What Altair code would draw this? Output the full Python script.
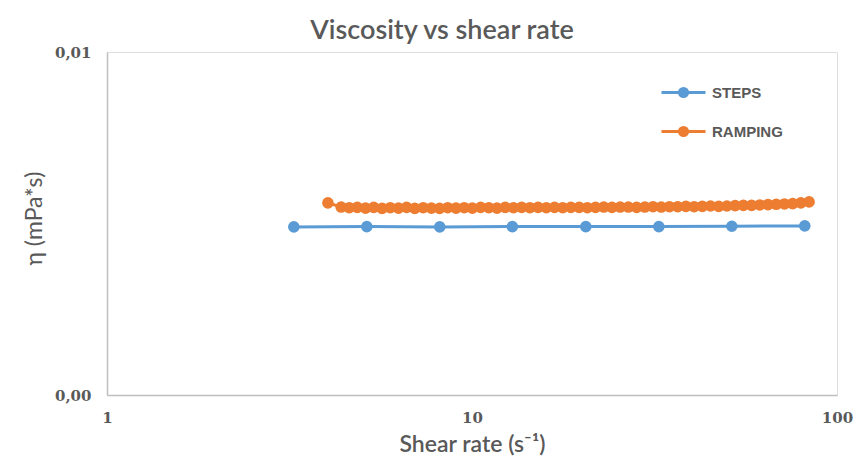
import altair as alt
import pandas as pd

# Shear rate (1/s) and viscosity for the stepped measurement
steps_rate = [3.25, 5.15, 8.16, 12.9, 20.5, 32.5, 51.5, 81.6]
steps_eta = [0.00490, 0.00491, 0.00490, 0.00491, 0.00491, 0.00491, 0.00492, 0.00493]

# Shear rate (1/s) and viscosity for the continuous ramp
ramp_rate = [
    4.03,
    4.38, 4.61, 4.85, 5.11, 5.38, 5.67, 5.97, 6.29, 6.62, 6.97,
    7.35, 7.74, 8.15, 8.58, 9.04, 9.52, 10.02, 10.56, 11.12, 11.71,
    12.33, 12.99, 13.68, 14.41, 15.17, 15.98, 16.83, 17.72, 18.66, 19.66,
    20.70, 21.80, 22.96, 24.18, 25.47, 26.82, 28.25, 29.75, 31.33, 33.00,
    34.75, 36.60, 38.55, 40.60, 42.76, 45.03, 47.42, 49.94, 52.60, 55.40,
    58.34, 61.45, 64.71, 68.15, 71.78, 75.60, 79.62, 83.85,
]
ramp_eta = [
    0.00560,
    0.00548, 0.00546, 0.00547, 0.00545, 0.00547, 0.00544, 0.00546, 0.00545, 0.00547, 0.00544,
    0.00546, 0.00545, 0.00544, 0.00546, 0.00545, 0.00546, 0.00545, 0.00547, 0.00546, 0.00545,
    0.00547, 0.00546, 0.00547, 0.00546, 0.00547, 0.00546, 0.00547, 0.00546, 0.00547, 0.00547,
    0.00546, 0.00547, 0.00548, 0.00547, 0.00548, 0.00548, 0.00547, 0.00548, 0.00549, 0.00548,
    0.00549, 0.00549, 0.00550, 0.00549, 0.00550, 0.00551, 0.00550, 0.00551, 0.00552, 0.00553,
    0.00553, 0.00554, 0.00555, 0.00556, 0.00557, 0.00558, 0.00560, 0.00563,
]

series_names = ["STEPS", "RAMPING"]
series_colors = ["#5B9BD5", "#ED7D31"]

df = pd.concat([
    pd.DataFrame({"rate": steps_rate, "eta": steps_eta, "series": "STEPS"}),
    pd.DataFrame({"rate": ramp_rate, "eta": ramp_eta, "series": "RAMPING"}),
], ignore_index=True)

grey = "#595959"
axis_line = "#BFBFBF"

x_enc = alt.X(
    "rate:Q",
    scale=alt.Scale(type="log", domain=[1, 100]),
    axis=alt.Axis(
        values=[1, 10, 100], format="d", title="Shear rate (s⁻¹)",
        grid=False, ticks=False, domainColor=axis_line, domainWidth=1.5,
        labelFont="DejaVu Serif", labelFontWeight="bold", labelFontSize=15,
        labelColor=grey, labelPadding=15, labelFlush=False,
        titleFont="Lato", titleFontSize=23, titleFontWeight=600,
        titleColor=grey, titlePadding=8,
    ),
)
y_enc = alt.Y(
    "eta:Q",
    scale=alt.Scale(domain=[0, 0.01]),
    axis=alt.Axis(
        values=[0, 0.01], labelExpr="replace(format(datum.value, '.2f'), '.', ',')",
        title="η (mPa*s)", grid=False, ticks=False,
        domainColor=axis_line, domainWidth=1.5,
        labelFont="DejaVu Serif", labelFontWeight="bold", labelFontSize=15,
        labelColor=grey, labelPadding=16,
        titleFont="Lato", titleFontSize=23, titleFontWeight="normal",
        titleColor=grey, titlePadding=8, titleY=166,
    ),
)
color_scale = alt.Scale(domain=series_names, range=series_colors)

# Legend glyph: a short line with a solid dot made of concentric rings
legend_glyph = (
    "M-1,0L1,0"
    "M-0.19,0A0.19,0.19 0 1,0 0.19,0A0.19,0.19 0 1,0 -0.19,0Z"
    "M-0.1,0A0.1,0.1 0 1,0 0.1,0A0.1,0.1 0 1,0 -0.1,0Z"
    "M-0.03,0A0.03,0.03 0 1,0 0.03,0A0.03,0.03 0 1,0 -0.03,0Z"
)

legend = alt.Legend(
    title=None, orient="none", legendX=553, legendY=17,
    symbolType=legend_glyph,
    symbolSize=1936, symbolStrokeWidth=2.8,
    labelFont="Liberation Sans", labelFontWeight="bold", labelFontSize=15,
    labelColor=grey, labelOffset=5, rowPadding=5,
)

base = alt.Chart(df)

lines = base.mark_line(strokeWidth=3).encode(
    x=x_enc, y=y_enc,
    color=alt.Color("series:N", scale=color_scale, legend=legend, sort=series_names),
    order="rate:Q",
)
points = base.mark_point(filled=True, size=135, opacity=1).encode(
    x=x_enc, y=y_enc,
    color=alt.Color("series:N", scale=color_scale, legend=None),
)

chart = alt.layer(lines, points).resolve_legend(color="independent").properties(
    width=730,
    height=343,
    padding={"left": 107, "top": 52, "right": 19, "bottom": 64},
    autosize=alt.AutoSizeParams(type="none"),
    title=alt.TitleParams(
        "Viscosity vs shear rate", font="Lato", fontSize=27, fontWeight=600,
        color=grey, anchor="middle", dx=-30, offset=0,
    ),
).configure_view(stroke=None).configure(background="white")

chart.save("out.html", embed_options={"renderer": "svg", "actions": False})
